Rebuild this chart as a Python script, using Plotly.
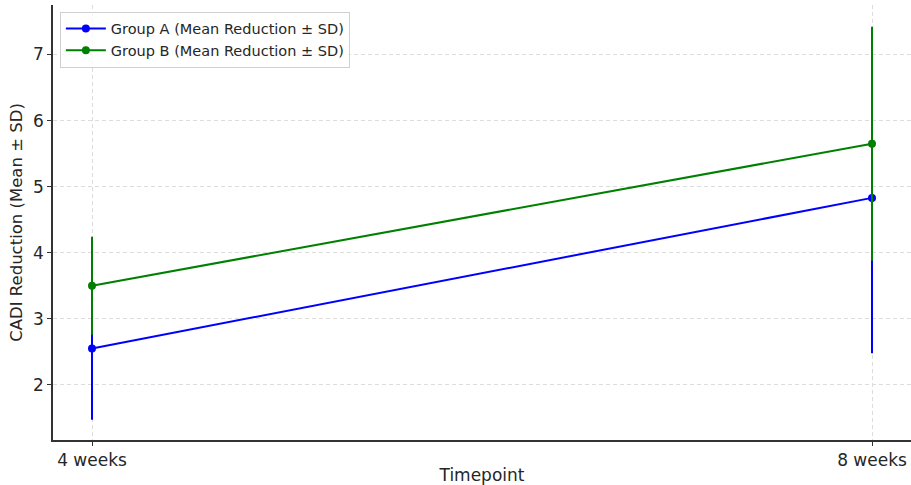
import plotly.graph_objects as go

timepoints = ["4 weeks", "8 weeks"]
group_a_mean = [2.55, 4.83]
group_a_sd = [1.08, 2.35]
group_b_mean = [3.50, 5.65]
group_b_sd = [0.74, 1.77]
y_ticks = [2, 3, 4, 5, 6, 7]

FONT = "DejaVu Sans"
TXT = "#262626"

fig = go.Figure()
for name, mean, sd, color in [
    ("Group A (Mean Reduction ± SD)", group_a_mean, group_a_sd, "#0000ff"),
    ("Group B (Mean Reduction ± SD)", group_b_mean, group_b_sd, "#008000"),
]:
    fig.add_trace(go.Scatter(
        x=[0, 1], y=mean, name=name, mode="lines+markers",
        line=dict(color=color, width=2),
        marker=dict(color=color, size=8),
        error_y=dict(type="data", array=sd, visible=True, color=color,
                     thickness=2, width=0),
    ))

fig.update_layout(
    width=911, height=485,
    margin=dict(l=53, r=0, t=5, b=45),
    plot_bgcolor="white", paper_bgcolor="white",
    font=dict(family=FONT, color=TXT),
    showlegend=True,
    legend=dict(x=0.008, y=0.985, xanchor="left", yanchor="top",
                bgcolor="rgba(255,255,255,0.8)", bordercolor="#d0d0d0",
                borderwidth=1, font=dict(family=FONT, size=14.5, color=TXT),
                tracegroupgap=0, itemwidth=40),
)
fig.update_xaxes(
    range=[-0.05, 1.05], tickvals=[0, 1], ticktext=timepoints,
    showline=True, linecolor="#333333", linewidth=1.5,
    ticks="outside", ticklen=4, tickcolor="#333333",
    showgrid=True, gridcolor="#dcdcdc", griddash="4px,3px", gridwidth=1,
    zeroline=False, tickfont=dict(size=17, color=TXT),
    title=dict(text="Timepoint", font=dict(size=17, color=TXT), standoff=4),
)
fig.update_yaxes(
    range=[1.165, 7.75], tickvals=y_ticks,
    showline=True, linecolor="#333333", linewidth=1.5,
    ticks="outside", ticklen=4, tickcolor="#333333",
    showgrid=True, gridcolor="#dcdcdc", griddash="4px,3px", gridwidth=1,
    zeroline=False, tickfont=dict(size=17, color=TXT),
    title=dict(text="CADI Reduction (Mean ± SD)", font=dict(size=16.5, color=TXT), standoff=6),
)

fig.write_html("out.html")
